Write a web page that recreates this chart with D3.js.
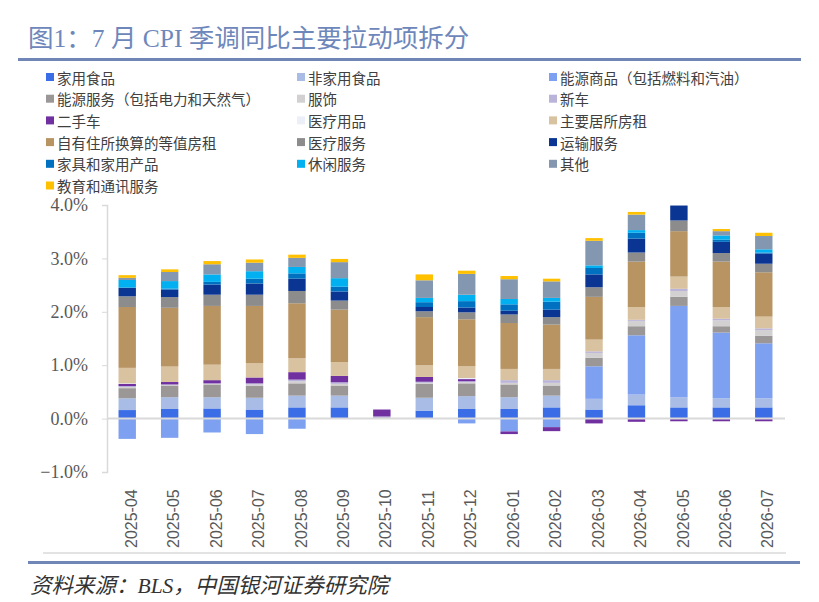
<!DOCTYPE html>
<html>
<head>
<meta charset="utf-8">
<script src="https://cdn.jsdelivr.net/npm/d3@7"></script>
<style>
  html, body { margin: 0; padding: 0; background: #fff; }
  svg { display: block; }
</style>
</head>
<body>
<svg id="chart" width="819" height="602"></svg>
<script>
// ── Data (percentage points) ─────────────────────────────────────────────
const months = ['2025-04','2025-05','2025-06','2025-07','2025-08','2025-09','2025-10','2025-11',
                '2025-12','2026-01','2026-02','2026-03','2026-04','2026-05','2026-06','2026-07'];

const homeFood     = [0.16, 0.18, 0.19, 0.17, 0.21, 0.21, 0, 0.15, 0.18, 0.18, 0.21, 0.17, 0.25, 0.21, 0.21, 0.21];
const awayFood     = [0.22, 0.22, 0.21, 0.22, 0.22, 0.22, 0, 0.24, 0.24, 0.22, 0.22, 0.20, 0.20, 0.19, 0.17, 0.17];
const energyGoods  = [-0.38, -0.36, -0.26, -0.29, -0.19, 0, 0, 0, -0.09, -0.24, -0.16, 0.61, 1.11, 1.71, 1.23, 1.03];
const energySvc    = [0.19, 0.22, 0.24, 0.22, 0.23, 0.19, 0, 0.26, 0.24, 0.24, 0.19, 0.16, 0.17, 0.17, 0.12, 0.14];
const apparel      = [0.02, 0.01, 0.01, 0.03, 0.04, 0.03, 0, 0.02, 0.02, 0.03, 0.05, 0.09, 0.10, 0.11, 0.11, 0.11];
const newCars      = [0.02, 0.01, 0.01, 0.02, 0.03, 0.03, 0.04, 0.02, 0.02, 0.05, 0.05, 0.03, 0.02, 0.04, 0.03, 0.03];
const usedCars     = [0.04, 0.045, 0.06, 0.11, 0.14, 0.12, 0.13, 0.09, 0.04, -0.05, -0.075, -0.09, -0.06, -0.05, -0.05, -0.05];
const medGoods     = [0.01, 0, 0, 0, 0, 0, 0, 0, 0.02, 0, 0, 0, 0, 0, 0, 0];
const rent         = [0.29, 0.29, 0.29, 0.27, 0.26, 0.26, 0, 0.22, 0.22, 0.21, 0.21, 0.22, 0.24, 0.23, 0.22, 0.22];
const oer          = [1.14, 1.10, 1.10, 1.07, 1.03, 0.98, 0, 0.90, 0.88, 0.86, 0.83, 0.80, 0.85, 0.85, 0.85, 0.83];
const medSvc       = [0.20, 0.20, 0.21, 0.21, 0.23, 0.17, 0, 0.11, 0.13, 0.16, 0.14, 0.18, 0.17, 0.20, 0.16, 0.16];
const transport    = [0.156, 0.14, 0.19, 0.21, 0.23, 0.17, 0, 0.08, 0.09, 0.07, 0.14, 0.24, 0.26, 0.28, 0.21, 0.19];
const household    = [0.01, 0.02, 0.05, 0.09, 0.10, 0.09, 0, 0.09, 0.12, 0.12, 0.15, 0.12, 0.11, 0, 0.04, 0.02];
const recreation   = [0.14, 0.14, 0.14, 0.14, 0.12, 0.16, 0, 0.08, 0.12, 0.10, 0.07, 0.05, 0.05, 0, 0.08, 0.06];
const other        = [0.04, 0.17, 0.19, 0.16, 0.17, 0.30, 0, 0.33, 0.39, 0.37, 0.31, 0.46, 0.29, 0, 0.08, 0.25];
const education    = [0.05, 0.05, 0.06, 0.06, 0.06, 0.06, 0, 0.11, 0.06, 0.06, 0.05, 0.05, 0.05, 0, 0.04, 0.06];

const seriesNames  = ['家用食品','非家用食品','能源商品（包括燃料和汽油）','能源服务（包括电力和天然气）',
                      '服饰','新车','二手车','医疗用品','主要居所房租','自有住所换算的等值房租',
                      '医疗服务','运输服务','家具和家用产品','休闲服务','其他','教育和通讯服务'];
const seriesValues = [homeFood, awayFood, energyGoods, energySvc, apparel, newCars, usedCars, medGoods,
                      rent, oer, medSvc, transport, household, recreation, other, education];
const seriesColors = ['#3a6de6','#a8bce6','#7ea0f0','#9c9797','#d2d0d0','#bab3da','#7030a0','#eaeff8',
                      '#d8c29f','#b89462','#8c8c8c','#0b3592','#0070c0','#00b0f0','#8497b0','#ffc000'];

const yTicks = [-1, 0, 1, 2, 3, 4];

// ── Layout ────────────────────────────────────────────────────────────────
const svg = d3.select('#chart');
const CJK = '"Noto Sans CJK SC", sans-serif';
const SERIF = '"Liberation Serif", "Noto Sans CJK SC", serif';

// Title + rules
svg.append('text')
  .attr('x', 28).attr('y', 47)
  .attr('font-family', SERIF)
  .attr('font-size', 25.5)
  .attr('fill', '#6e87bb')
  .text('图1：7 月 CPI 季调同比主要拉动项拆分');

svg.append('rect').attr('x', 18).attr('y', 58).attr('width', 783).attr('height', 3).attr('fill', '#6f86b6');
svg.append('rect').attr('x', 43).attr('y', 552).attr('width', 743).attr('height', 2).attr('fill', '#e3e3e3');
svg.append('rect').attr('x', 28).attr('y', 561).attr('width', 772).attr('height', 3).attr('fill', '#6f86b6');

svg.append('text')
  .attr('x', 30).attr('y', 593)
  .attr('font-family', SERIF)
  .attr('font-style', 'italic')
  .attr('font-size', 21.5)
  .attr('fill', '#333')
  .text('资料来源：BLS，中国银河证券研究院');

// ── Legend ────────────────────────────────────────────────────────────────
const legendCols = [50, 301, 553];
const legend = svg.append('g')
  .selectAll('g')
  .data(seriesNames)
  .join('g')
  .attr('transform', (d, i) => `translate(${legendCols[i % 3]},${77 + Math.floor(i / 3) * 21.7})`);

legend.append('rect')
  .attr('x', -4).attr('y', -4)
  .attr('width', 8).attr('height', 8)
  .attr('fill', (d, i) => seriesColors[i]);

legend.append('text')
  .attr('x', 7).attr('y', 0)
  .attr('dominant-baseline', 'central')
  .attr('font-family', CJK)
  .attr('font-size', 14.5)
  .attr('fill', '#404040')
  .text(d => d);

// ── Scales ────────────────────────────────────────────────────────────────
const x = d3.scaleBand().domain(months).range([106, 785]).paddingInner(0.59).paddingOuter(0.295);
const y = d3.scaleLinear().domain([-1, 4]).range([472, 205]);

// Stack (positives up, negatives down, legend order)
const table = months.map((m, j) => {
  const row = { month: m };
  seriesNames.forEach((s, i) => { row[s] = seriesValues[i][j]; });
  return row;
});
const stacked = d3.stack()
  .keys(seriesNames)
  .offset(d3.stackOffsetDiverging)(table);

svg.append('clipPath').attr('id', 'plot-clip')
  .append('rect').attr('x', 100).attr('y', y(4)).attr('width', 700).attr('height', y(-1) - y(4));

const bars = svg.append('g').attr('clip-path', 'url(#plot-clip)');
bars.selectAll('g')
  .data(stacked)
  .join('g')
  .attr('fill', (d, i) => seriesColors[i])
  .selectAll('rect')
  .data(d => d.filter(p => p[1] !== p[0]))
  .join('rect')
  .attr('x', p => x(p.data.month))
  .attr('width', x.bandwidth())
  .attr('y', p => y(Math.max(p[0], p[1])))
  .attr('height', p => Math.abs(y(p[0]) - y(p[1])));

// ── Axes ──────────────────────────────────────────────────────────────────
// zero line
svg.append('line')
  .attr('x1', 107).attr('x2', 785)
  .attr('y1', y(0)).attr('y2', y(0))
  .attr('stroke', '#d9d9d9').attr('stroke-width', 2);

const yAxis = svg.append('g')
  .attr('transform', 'translate(107,0)')
  .call(d3.axisLeft(y).tickValues(yTicks).tickSize(5).tickPadding(14)
    .tickFormat(d => d3.format('.1f')(d) + '%'));
yAxis.select('.domain').attr('stroke', '#d9d9d9').attr('stroke-width', 1.5);
yAxis.selectAll('.tick line').attr('stroke', '#d9d9d9');
yAxis.selectAll('.tick text')
  .attr('font-family', SERIF)
  .attr('font-size', 18)
  .attr('fill', '#595959');

const xAxis = svg.append('g')
  .attr('transform', 'translate(0,548)')
  .call(d3.axisBottom(x).tickSize(0).tickPadding(0));
xAxis.select('.domain').remove();
xAxis.selectAll('.tick text')
  .attr('transform', 'translate(4,0) rotate(-90)')
  .attr('text-anchor', 'start')
  .attr('dy', '0.35em')
  .attr('x', 0).attr('y', 0)
  .attr('font-family', '"Liberation Sans", Arial, sans-serif')
  .attr('font-size', 16)
  .attr('fill', '#595959');
</script>
</body>
</html>
